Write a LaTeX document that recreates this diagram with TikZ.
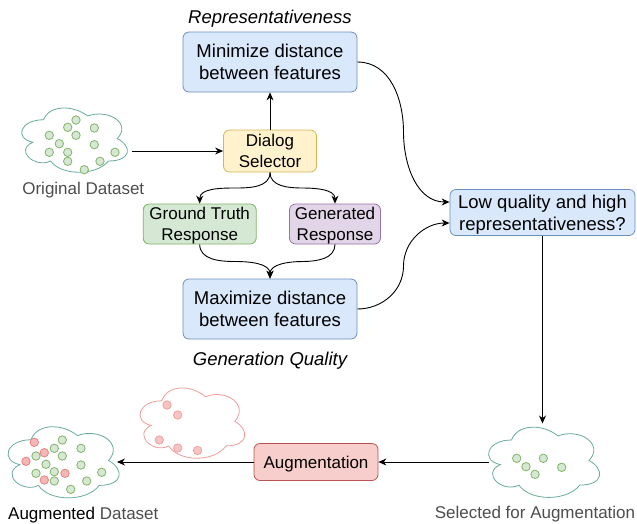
\documentclass[tikz,border=0pt]{standalone}
\usepackage{fontspec}
\setmainfont{Liberation Sans}
\usepackage{xcolor}
\usepackage{tikz}
\usetikzlibrary{
  arrows.meta,
  positioning,
  calc,
}
\definecolor{featBlue}{HTML}{DAE8FC}
\definecolor{featBlueLine}{HTML}{6C8EBF}
\definecolor{selYellow}{HTML}{FFF2CC}
\definecolor{selYellowLine}{HTML}{D6B656}
\definecolor{gtGreen}{HTML}{D5E8D4}
\definecolor{gtGreenLine}{HTML}{82B366}
\definecolor{genPurple}{HTML}{E1D5E7}
\definecolor{genPurpleLine}{HTML}{9673A6}
\definecolor{augRed}{HTML}{F8CECC}
\definecolor{augRedLine}{HTML}{B85450}
\definecolor{cloudTeal}{HTML}{67AB9F}
\definecolor{cloudPink}{HTML}{F19C99}
\definecolor{dotPink}{HTML}{F6B8B7}
\definecolor{dotPinkLine}{HTML}{E8807E}
\definecolor{fadePink}{HTML}{F7C4C3}
\definecolor{fadePinkLine}{HTML}{EBA3A1}
\definecolor{labelGray}{HTML}{4D4D4D}

\tikzset{
  stagebox/.style={draw, rounded corners=6pt, line width=0.8pt, align=center,
    inner sep=0pt, text depth=0pt, font=\fontsize{17}{21}\selectfont},
  featbox/.style={stagebox, fill=featBlue, draw=featBlueLine,
    minimum width=174pt, minimum height=60pt, font=\fontsize{18.5}{22}\selectfont},
  critlabel/.style={font=\fontsize{18.5}{22}\selectfont\itshape, inner sep=0pt},
  dslabel/.style={font=\fontsize{17}{21}\selectfont, text=labelGray, inner sep=0pt},
  cloudbox/.style={inner sep=0pt, outer sep=0pt},
  cloudline/.style={draw=cloudTeal, line width=0.8pt},
  gdot/.style={fill=gtGreen, draw=gtGreenLine, line width=0.8pt},
  pdot/.style={fill=dotPink, draw=dotPinkLine, line width=0.8pt},
}

% cloud outline: style, north west corner, width, height
\newcommand{\drawcloud}[4]{%
  \draw[#1, shift={(#2)}, x=#3pt, y=-#4pt]
    (0.25,0.25) .. controls (0.05,0.25) and (0,0.5) .. (0.16,0.55)
    .. controls (0,0.66) and (0.18,0.9) .. (0.31,0.8)
    .. controls (0.4,1) and (0.7,1) .. (0.8,0.8)
    .. controls (1,0.8) and (1,0.6) .. (0.875,0.5)
    .. controls (1,0.3) and (0.8,0.1) .. (0.625,0.2)
    .. controls (0.5,0.05) and (0.3,0.05) .. (0.25,0.25) -- cycle;}

\begin{document}
\begin{tikzpicture}[x=1pt, y=-1pt, line width=0.9pt,
    >={Stealth[length=8pt, width=7pt]}]
  \useasboundingbox (0,0) rectangle (637,523);

  % boxes
  \node[featbox] (min) at (270,62) {Minimize distance\\between features};
  \node[featbox] (max) at (270,309) {Maximize distance\\between features};
  \node[critlabel, anchor=base] (repr) at (270,23) {Representativeness};
  \node[critlabel, anchor=base] (qual) at (270,365.5) {Generation Quality};
  \node[stagebox, fill=selYellow, draw=selYellowLine,
        minimum width=93pt, minimum height=42pt] (sel) at (270,151) {Dialog\\Selector};
  \node[stagebox, fill=gtGreen, draw=gtGreenLine,
        minimum width=113pt, minimum height=40pt] (gt) at (199.7,224) {Ground Truth\\Response};
  \node[stagebox, fill=genPurple, draw=genPurpleLine,
        minimum width=91pt, minimum height=40pt] (gen) at (335,224) {Generated\\Response};
  \node[stagebox, fill=featBlue, draw=featBlueLine, font=\fontsize{18.5}{22}\selectfont,
        minimum width=185pt, minimum height=46pt] (low) at (542.5,212.5) {Low quality and high\\representativeness?};
  \node[stagebox, fill=augRed, draw=augRedLine,
        minimum width=124pt, minimum height=37pt] (aug) at (316,462) {Augmentation};

  % clouds
  \node[cloudbox, minimum width=118pt, minimum height=75pt] (orig) at (73,138.5) {};
  \node[cloudbox, minimum width=124pt, minimum height=83pt] (augc) at (62,460.5) {};
  \node[cloudbox, minimum width=124pt, minimum height=82pt] (selc) at (542.5,460.5) {};
  \drawcloud{cloudline}{orig.north west}{118}{75}
  \drawcloud{cloudline}{augc.north west}{124}{83}
  \drawcloud{cloudline}{selc.north west}{124}{82}
  \drawcloud{draw=cloudPink, line width=0.8pt}{132.4,380.3}{117}{82}

  % dots
  \foreach \px/\py in {76/120, 67.7/127.3, 94.3/128, 76/135.3, 49.3/135.3,
      59.3/143.7, 94.3/144.7, 49.3/152.3, 67.7/152.3, 115/152.3,
      67.7/161.3, 100/161.3, 84.3/169.7}
    \draw[gdot] (\px,\py) circle (4.2);
  \foreach \px/\py in {62.3/440, 54.3/448.3, 81/448.3, 36/456, 62.3/456,
      46/464.3, 81/465, 36/473.3, 54.3/471.7, 101.7/472.3,
      54.3/481, 86.7/481, 70.7/489.3}
    \draw[gdot] (\px,\py) circle (4.2);
  \foreach \px/\py in {34.3/442.3, 44.3/452.7, 26/461.3, 65/473.3, 44.3/480}
    \draw[pdot] (\px,\py) circle (4.2);
  \foreach \px/\py in {167/405, 177.7/415, 159.3/440, 177.7/448, 197.5/450.5}
    \draw[fill=fadePink, draw=fadePinkLine, line width=0.8pt] (\px,\py) circle (4.2);
  \foreach \px/\py in {516.7/458.3, 543.3/458.3, 526/466.7, 561.7/467.3, 535/474.3}
    \draw[gdot] (\px,\py) circle (4.2);

  % cloud labels
  \node[dslabel, anchor=base] (origlbl) at (83.3,194) {Original Dataset};
  \node[dslabel, anchor=base] (auglbl) at (83.3,519) {\textcolor{black}{Augmented} Dataset};
  \node[dslabel, anchor=base] (sellbl) at (535,518) {Selected for Augmentation};

  % connectors
  \draw[->] (orig.east |- sel.west) -- (sel.west);
  \draw[->] (sel) -- (min);
  \draw[->] (sel.south) to[out=-90,in=0] ($(sel.south)!0.5!(gt.north)$)
    to[out=180,in=90] (gt.north);
  \draw[->] (sel.south) to[out=-90,in=180] ($(sel.south)!0.5!(gen.north)$)
    to[out=0,in=90] (gen.north);
  \draw[->] (gt.south) to[out=-90,in=180] ($(gt.south)!0.5!(max.north)$)
    to[out=0,in=90] (max.north);
  \draw[->] (gen.south) to[out=-90,in=0] ($(gen.south)!0.5!(max.north)$)
    to[out=180,in=90] (max.north);
  \coordinate (minin) at ($(low.west)+(0,-10.5)$);
  \coordinate (maxin) at ($(low.west)+(0,10.5)$);
  \draw[->] (min.east) to[out=0,in=90] ($(min.east)!0.5!(minin)$)
    to[out=-90,in=180] (minin);
  \draw[->] (max.east) to[out=0,in=-90] ($(max.east)!0.5!(maxin)$)
    to[out=90,in=180] (maxin);
  \draw[->] (low.south) -- ($(low.south |- selc.north)+(0,4)$);
  \draw[->] ($(selc.west |- aug.east)+(8,0)$) -- (aug.east);
  \draw[->] (aug.west) -- ($(augc.east |- aug.west)+(-7,0)$);
\end{tikzpicture}
\end{document}
